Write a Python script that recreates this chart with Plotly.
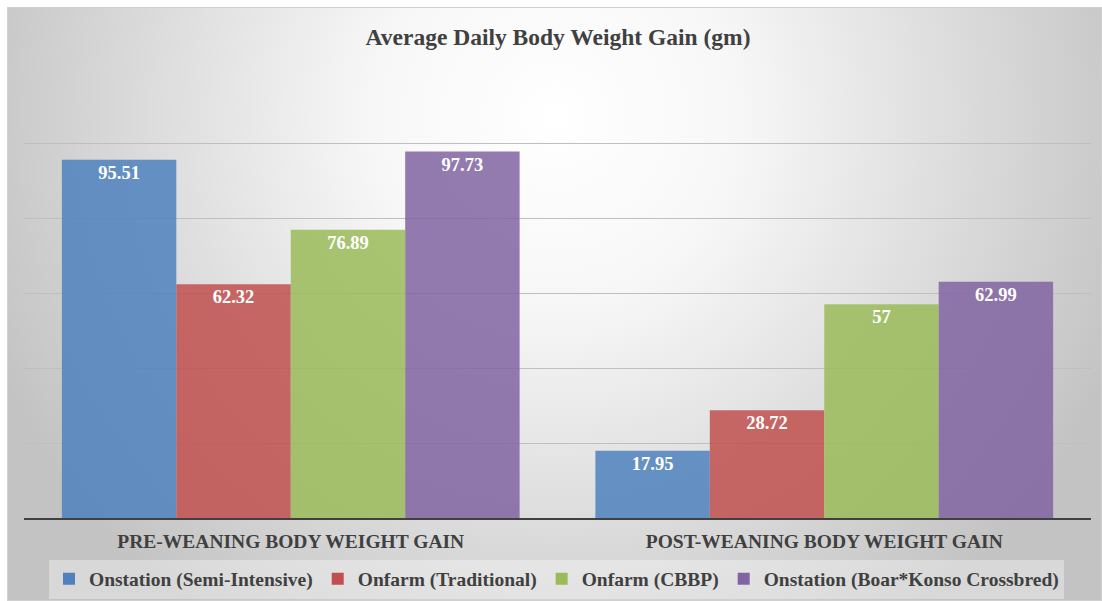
import base64
import plotly.graph_objects as go

# ---- data ----
categories = ["PRE-WEANING BODY WEIGHT GAIN", "POST-WEANING BODY WEIGHT GAIN"]
series_names = [
    "Onstation (Semi-Intensive)",
    "Onfarm (Traditional)",
    "Onfarm (CBBP)",
    "Onstation (Boar*Konso Crossbred)",
]
onstation_semi_intensive = [95.51, 17.95]
onfarm_traditional = [62.32, 28.72]
onfarm_cbbp = [76.89, 57]
onstation_boar_konso = [97.73, 62.99]
y_tick_values = [0, 20, 40, 60, 80, 100, 120]
chart_title = "Average Daily Body Weight Gain (gm)"

# ---- styling ----
W, H = 1102, 601
FONT = "Liberation Serif, Times New Roman, serif"
TEXT_COLOR = "#404040"
colors = ["#4F81BD", "#C0504D", "#9BBB59", "#8064A2"]
series_values = [onstation_semi_intensive, onfarm_traditional, onfarm_cbbp, onstation_boar_konso]

# radial gradient background for the chart area
gw, gh = W - 7, H - 7
svg = (
    f'<svg xmlns="http://www.w3.org/2000/svg" width="{gw}" height="{gh}" '
    f'viewBox="0 0 {gw} {gh}" preserveAspectRatio="none">'
    '<defs><radialGradient id="g" gradientUnits="userSpaceOnUse" cx="0" cy="0" r="1" '
    'gradientTransform="translate(548,110) scale(610,620)">'
    '<stop offset="0" stop-color="#ffffff"/>'
    '<stop offset="0.3" stop-color="#f7f7f7"/>'
    '<stop offset="1" stop-color="#c3c3c3"/>'
    '</radialGradient></defs>'
    f'<rect x="0.5" y="0.5" width="{gw-1}" height="{gh-1}" fill="url(#g)" stroke="#d0d0d0" stroke-width="1"/>'
    '</svg>'
)
bg_src = "data:image/svg+xml;base64," + base64.b64encode(svg.encode()).decode()

fig = go.Figure()
for name, vals, col in zip(series_names, series_values, colors):
    fig.add_trace(go.Bar(
        name=name,
        x=categories,
        y=vals,
        marker=dict(color=col, opacity=0.85, line=dict(width=0)),
        texttemplate="%{y}",
        textposition="inside",
        insidetextanchor="end",
        textangle=0,
        textfont=dict(family=FONT, size=18.5, color="white", weight="bold"),
        hoverinfo="skip",
    ))

fig.update_layout(
    width=W,
    height=H,
    margin=dict(l=0, r=0, t=0, b=0),
    paper_bgcolor="white",
    plot_bgcolor="rgba(0,0,0,0)",
    barmode="group",
    bargap=0.142,
    bargroupgap=0,
    title=dict(
        text=chart_title,
        x=558 / W, xref="paper", xanchor="center",
        y=1 - 37 / H, yref="paper", yanchor="middle",
        font=dict(family=FONT, size=23.5, color=TEXT_COLOR, weight="bold"),
    ),
    legend=dict(
        orientation="h",
        x=0.505, xanchor="center",
        y=1 - 579 / H, yanchor="middle",
        bgcolor="rgba(255,255,255,0.35)",
        font=dict(family=FONT, size=19.5, color=TEXT_COLOR, weight="bold"),
        traceorder="normal",
    ),
    xaxis=dict(
        domain=[24 / W, 1091 / W],
        type="category",
        showline=True,
        linecolor="#404040",
        linewidth=2,
        ticks="",
        ticklabelstandoff=5,
        showgrid=False,
        tickfont=dict(family=FONT, size=19.5, color=TEXT_COLOR, weight="bold"),
    ),
    yaxis=dict(
        domain=[(H - 518) / H, (H - 68) / H],
        range=[0, 120],
        tickvals=y_tick_values,
        showticklabels=False,
        showgrid=True,
        gridcolor="#bfbfbf",
        gridwidth=1,
        zeroline=False,
        showline=False,
    ),
    images=[dict(
        source=bg_src,
        xref="paper", yref="paper",
        x=7 / W, y=1 - 7 / H,
        sizex=gw / W, sizey=gh / H,
        xanchor="left", yanchor="top",
        sizing="stretch",
        layer="below",
    )],
)

fig.write_html(
    "out.html",
    config={"displayModeBar": False},
    post_script="document.body.style.margin='0';document.body.style.overflow='hidden';",
)
